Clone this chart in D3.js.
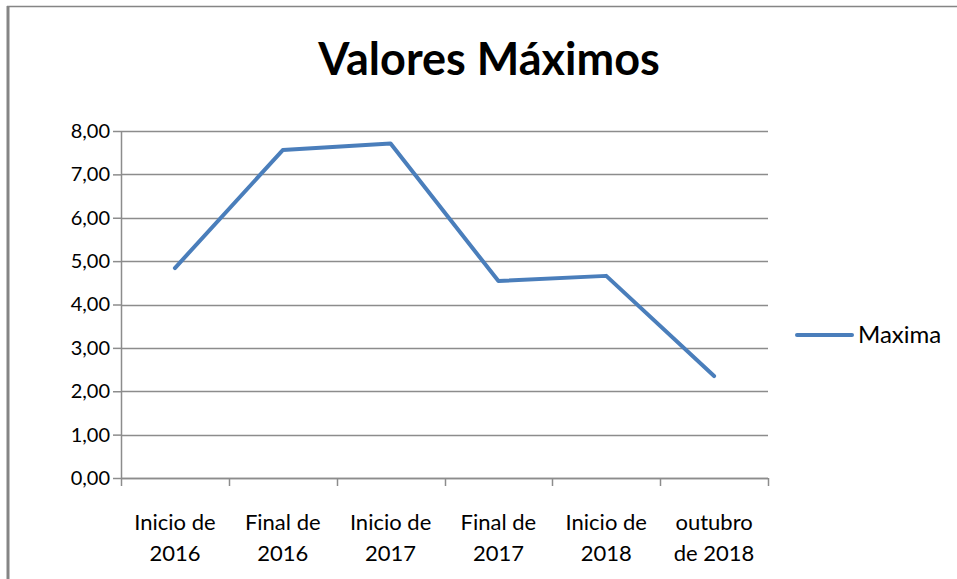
<!DOCTYPE html>
<html>
<head>
<meta charset="utf-8">
<script src="https://cdn.jsdelivr.net/npm/d3@7"></script>
<style>
  body { margin: 0; background: #fff; }
  svg { display: block; }
  text { font-family: Lato, "Open Sans", Arial, sans-serif; }
</style>
</head>
<body>
<svg id="chart"></svg>
<script>
var width = 957, height = 579
var margin = {top: 131, right: 189, bottom: 101, left: 121}

// data
var categories = [["Inicio de", "2016"], ["Final de", "2016"], ["Inicio de", "2017"],
                  ["Final de", "2017"], ["Inicio de", "2018"], ["outubro", "de 2018"]]
var maxima = [4.84, 7.56, 7.71, 4.54, 4.66, 2.35]
var yTicks = [0, 1, 2, 3, 4, 5, 6, 7, 8]
var seriesName = "Maxima"

var lineColor = "#4a7ebb", gridColor = "#8c8c8c"

var svg = d3.select("#chart").attr("width", width).attr("height", height)

// chart border (left and top)
svg.append("line").attr("x1", 8).attr("x2", 8).attr("y1", 6).attr("y2", height)
  .attr("stroke", "#858585").attr("stroke-width", 3)
svg.append("line").attr("x1", 7).attr("x2", width).attr("y1", 6.5).attr("y2", 6.5)
  .attr("stroke", "#858585").attr("stroke-width", 1.5)

// title
svg.append("text")
  .attr("x", 489).attr("y", 75)
  .attr("text-anchor", "middle")
  .style("font-size", "45px").style("font-weight", "bold")
  .text("Valores Máximos")

var plotW = width - margin.left - margin.right
var plotH = height - margin.top - margin.bottom
var g = svg.append("g").attr("transform", "translate(" + margin.left + "," + margin.top + ")")

var x = d3.scaleBand().domain(d3.range(categories.length)).range([0, plotW])
var y = d3.scaleLinear().domain([0, 8]).range([plotH, 0])

// gridlines
g.append("g").selectAll("line").data(yTicks).enter().append("line")
  .attr("x1", 0).attr("x2", plotW)
  .attr("y1", d => Math.round(y(d)) + 0.5).attr("y2", d => Math.round(y(d)) + 0.5)
  .attr("stroke", gridColor).attr("stroke-width", 1.5)

// y axis
var yAxis = g.append("g")
  .call(d3.axisLeft(y).tickValues(yTicks).tickSize(8).tickPadding(3)
    .tickFormat(d => d3.format(".2f")(d).replace(".", ",")))
yAxis.selectAll("path, line").attr("stroke", gridColor).attr("stroke-width", 1.5)
yAxis.select(".domain").attr("d", "M0.5,0V" + plotH)
yAxis.selectAll("text").style("font-size", "20px").attr("fill", "#000")
  .attr("font-family", "Lato, Open Sans, Arial, sans-serif")

// x axis
var xTickPos = d3.range(categories.length + 1).map(i => i * x.step())
var xAxis = g.append("g").attr("transform", "translate(0," + plotH + ")")
xAxis.append("line").attr("x1", 0).attr("x2", plotW).attr("y1", 0.5).attr("y2", 0.5)
  .attr("stroke", gridColor).attr("stroke-width", 1.5)
xAxis.selectAll(".tick").data(xTickPos).enter().append("line")
  .attr("x1", d => Math.round(d) + 0.5).attr("x2", d => Math.round(d) + 0.5)
  .attr("y1", 0).attr("y2", 8)
  .attr("stroke", gridColor).attr("stroke-width", 1.5)

var lab = xAxis.selectAll(".lab").data(categories).enter().append("text")
  .attr("text-anchor", "middle")
  .attr("x", (d, i) => x(i) + x.bandwidth() / 2)
  .style("font-size", "22px").attr("fill", "#000")
lab.append("tspan").attr("x", (d, i) => x(i) + x.bandwidth() / 2).attr("y", 52).text(d => d[0])
lab.append("tspan").attr("x", (d, i) => x(i) + x.bandwidth() / 2).attr("y", 83).text(d => d[1])

// line
var line = d3.line()
  .x((d, i) => x(i) + x.bandwidth() / 2)
  .y(d => y(d))
g.append("path").datum(maxima)
  .attr("fill", "none").attr("stroke", lineColor).attr("stroke-width", 4)
  .attr("stroke-linejoin", "round").attr("stroke-linecap", "round")
  .attr("d", line)

// legend
var leg = svg.append("g").attr("transform", "translate(797,335)")
leg.append("line").attr("x1", 0).attr("x2", 55).attr("y1", 0).attr("y2", 0)
  .attr("stroke", lineColor).attr("stroke-width", 4).attr("stroke-linecap", "round")
leg.append("text").attr("x", 61).attr("y", 8).style("font-size", "24px").text(seriesName)
</script>
</body>
</html>
